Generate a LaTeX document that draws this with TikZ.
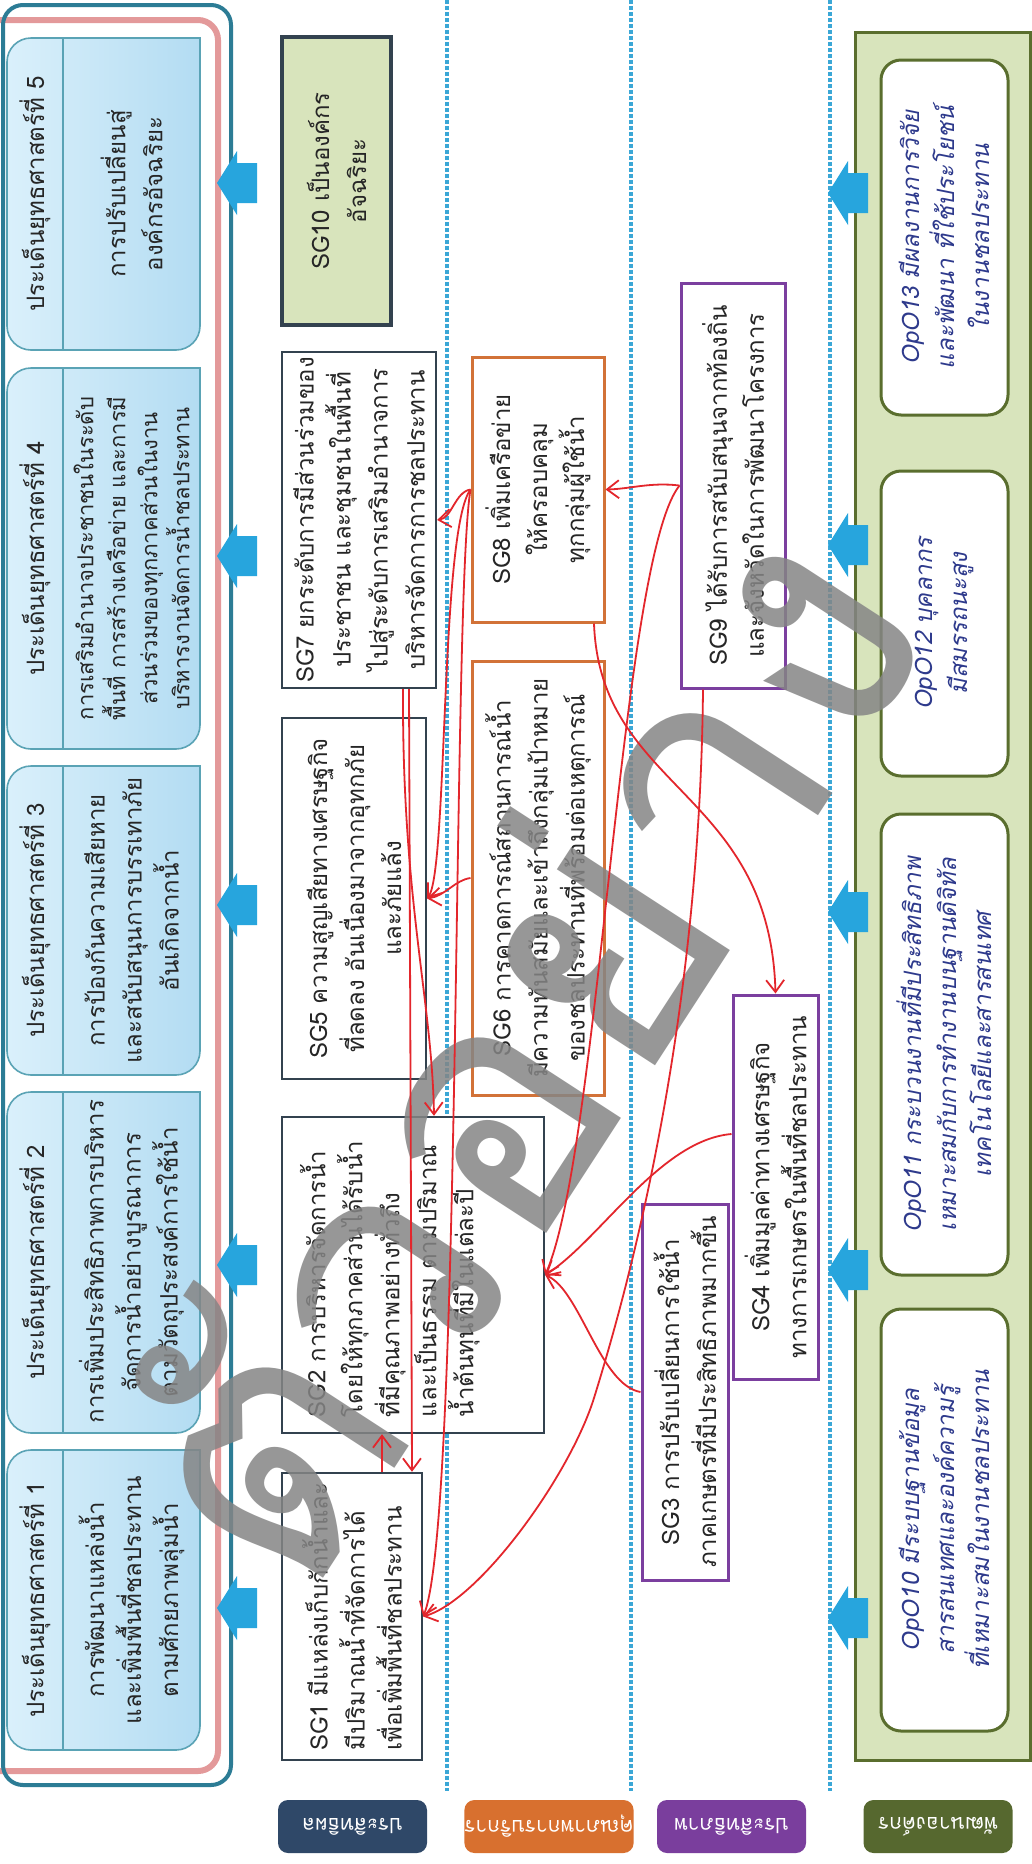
\documentclass[tikz,border=0pt]{standalone}
\usepackage{fontspec}
\usepackage{graphicx}
\setmainfont[Script=Thai]{Loma}
\newfontfamily\opofont[Script=Thai,FakeSlant=0.2]{Loma}
\usetikzlibrary{arrows.meta}

\definecolor{sgline}{HTML}{33424F}
\definecolor{issline}{HTML}{5AA3B5}
\definecolor{issA}{HTML}{DAF0FB}
\definecolor{issB}{HTML}{B3DCF2}
\definecolor{tealframe}{HTML}{2C7C95}
\definecolor{pinkframe}{HTML}{E3999A}
\definecolor{arrowblue}{HTML}{27A5DD}
\definecolor{dotblue}{HTML}{3BA7D6}
\definecolor{redlink}{HTML}{E3262C}
\definecolor{orangeline}{HTML}{D27238}
\definecolor{purpleline}{HTML}{7B3F9F}
\definecolor{greenfill}{HTML}{D8E4BC}
\definecolor{oliveline}{HTML}{5A6E2E}
\definecolor{opotext}{HTML}{2E3A8C}
\definecolor{perspnavy}{HTML}{2F4868}
\definecolor{persporange}{HTML}{D8702F}
\definecolor{persppurple}{HTML}{7A3E9D}
\definecolor{perspgreen}{HTML}{56682F}

\tikzset{
	sgbox/.style={draw=sgline, line width=1.2pt, fill=white, inner sep=0pt, text=black!85, font=\fontsize{12}{18.5}\selectfont},
	orangebox/.style={sgbox, draw=orangeline, line width=1.5pt},
	purplebox/.style={sgbox, draw=purpleline, line width=1.5pt},
	opobox/.style={draw=oliveline, line width=1.5pt, fill=white, rounded corners=10pt, inner sep=0pt, text=opotext, font=\opofont\fontsize{12}{17.5}\selectfont},
	issfill/.style={draw=issline, line width=0.8pt, left color=issA, right color=issB},
	issuetext/.style={inner sep=0pt, text=black!85, font=\fontsize{12}{18.5}\selectfont},
	persp/.style={rounded corners=5pt, text=white, inner sep=0pt, minimum width=74.5pt, minimum height=26.5pt, rotate=180, font=\fontsize{10.5}{12}\selectfont},
	sepline/.style={dotblue, line width=1.8pt, dash pattern=on 2pt off 1pt},
	link/.style={draw=redlink, line width=0.9pt, -{Straight Barb[length=6pt,width=9pt]}},
	stamp/.style={inner sep=0pt, text=black!48, text opacity=0.85, font=\fontsize{170}{170}\selectfont}
}

\newcommand{\rotpar}[3][\centering]{\rotatebox{90}{\parbox{#2}{#1#3}}}

\newcommand{\issuebox}[4]{
	\pgfmathsetmacro{\IBya}{#1}
	\pgfmathsetmacro{\IByb}{#2}
	\pgfmathsetmacro{\IBym}{(#1+#2)/2}
	\pgfmathsetmacro{\IBlen}{(#2-#1)/2-10}
	\path[issfill] (200,\IBya) [rounded corners=12pt] -- (7,\IBya) -- (7,\IByb) -- (200,\IByb) [sharp corners] -- cycle;
	\draw[issline, line width=0.8pt] (63,\IBya) -- (63,\IByb);
	\node[issuetext] (iss#3h) at (35,\IBym) {\rotpar{\IBlen pt}{ประเด็นยุทธศาสตร์ที่ #3}};
	\node[issuetext] (iss#3) at (131.5,\IBym) {\rotpar{\IBlen pt}{#4}};
}

\newcommand{\bluearrow}[2]{
	\pgfmathsetmacro{\BAxa}{#1+20}
	\pgfmathsetmacro{\BAxb}{#1+40}
	\pgfmathsetmacro{\BAya}{#2-32}
	\pgfmathsetmacro{\BAyb}{#2-20}
	\pgfmathsetmacro{\BAyc}{#2+20}
	\pgfmathsetmacro{\BAyd}{#2+32}
	\fill[arrowblue] (#1,#2) -- (\BAxa,\BAya) -- (\BAxa,\BAyb) -- (\BAxb,\BAyb) -- (\BAxb,\BAyc) -- (\BAxa,\BAyc) -- (\BAxa,\BAyd) -- cycle;
}

\begin{document}
\begin{tikzpicture}[x=0.5pt, y=-0.5pt]
\path[use as bounding box, fill=white] (0,0) rectangle (1032,1864);

\pgfmathsetmacro{\arLx}{217}
\pgfmathsetmacro{\arRx}{828}
\pgfmathsetmacro{\sepA}{447}
\pgfmathsetmacro{\sepB}{631}
\pgfmathsetmacro{\sepC}{830}
\pgfmathsetmacro{\sepEnd}{1791}

\draw[pinkframe, line width=3pt, rounded corners=10pt] (-30,20) rectangle (218,1771);
\draw[tealframe, line width=2pt, rounded corners=10pt] (3,5) rectangle (231,1785);

\issuebox{38}{350}{5}{การปรับเปลี่ยนสู่\\องค์กรอัจฉริยะ}
\issuebox{368}{749}{4}{\fontsize{11}{16}\selectfont การเสริมอำนาจประชาชนในระดับ\\พื้นที่ การสร้างเครือข่าย และการมี\\ส่วนร่วมของทุกภาคส่วนในงาน\\บริหารงานจัดการน้ำชลประทาน}
\issuebox{766}{1075}{3}{การป้องกันความเสียหาย\\และสนับสนุนการบรรเทาภัย\\อันเกิดจากน้ำ}
\issuebox{1092}{1433}{2}{การเพิ่มประสิทธิภาพการบริหาร\\จัดการน้ำอย่างบูรณาการ\\ตามวัตถุประสงค์การใช้น้ำ}
\issuebox{1450}{1750}{1}{การพัฒนาแหล่งน้ำ\\และเพิ่มพื้นที่ชลประทาน\\ตามศักยภาพลุ่มน้ำ}

\bluearrow{\arLx}{183}
\bluearrow{\arLx}{556}
\bluearrow{\arLx}{905}
\bluearrow{\arLx}{1265}
\bluearrow{\arLx}{1608}

\draw[sepline] (\sepA,0) -- (\sepA,\sepEnd);
\draw[sepline] (\sepB,0) -- (\sepB,\sepEnd);
\draw[sepline] (\sepC,0) -- (\sepC,\sepEnd);

\node[draw=oliveline, line width=1.5pt, fill=greenfill, minimum width=87.5pt, minimum height=864pt] (opoframe) at (942.5,896) {};

\bluearrow{\arRx}{193}
\bluearrow{\arRx}{545}
\bluearrow{\arRx}{912}
\bluearrow{\arRx}{1270}
\bluearrow{\arRx}{1618}

\node[sgbox, fill=greenfill, line width=1.6pt, minimum width=54.5pt, minimum height=144pt] (sg10) at (336.5,181) {\rotpar{136pt}{SG10 เป็นองค์กร\\อัจฉริยะ}};
\node[sgbox, minimum width=77pt, minimum height=168pt] (sg7) at (359,520) {\rotpar{164pt}{SG7 ยกระดับการมีส่วนร่วมของ\\ประชาชน และชุมชนในพื้นที่\\ไปสู่ระดับการเสริมอำนาจการ\\บริหารจัดการการชลประทาน}};
\node[sgbox, minimum width=72pt, minimum height=180.5pt] (sg5) at (354,898.5) {\rotpar{176pt}{SG5 ความสูญเสียทางเศรษฐกิจ\\ที่ลดลง อันเนื่องมาจากอุทกภัย\\และภัยแล้ง}};
\node[sgbox, minimum width=131pt, minimum height=158pt] (sg2) at (413,1275) {\rotatebox{90}{\parbox[c][113pt][t]{142pt}{\raggedright SG2 การบริหารจัดการน้ำ\\โดยให้ทุกภาคส่วนได้รับน้ำ\\ที่มีคุณภาพอย่างทั่วถึง\\และเป็นธรรม ตามปริมาณ\\น้ำต้นทุนที่มีในแต่ละปี}}};
\node[sgbox, minimum width=70pt, minimum height=143.5pt] (sg1) at (352,1616.5) {\rotpar[\raggedright]{134pt}{SG1 มีแหล่งเก็บกักน้ำและ\\มีปริมาณน้ำที่จัดการได้\\เพื่อเพิ่มพื้นที่ชลประทาน}};

\node[orangebox, minimum width=66pt, minimum height=132.5pt] (sg8) at (538,489.5) {\rotpar{128pt}{SG8 เพิ่มเครือข่าย\\ให้ครอบคลุม\\ทุกกลุ่มผู้ใช้น้ำ}};
\node[orangebox, minimum width=66pt, minimum height=217pt] (sg6) at (538,878) {\rotpar{212pt}{SG6 การคาดการณ์สถานการณ์น้ำ\\มีความทันสมัยและเข้าถึงกลุ่มเป้าหมาย\\ของชลประทานที่พร้อมต่อเหตุการณ์}};

\node[purplebox, minimum width=52pt, minimum height=202.5pt] (sg9) at (733,485.5) {\rotpar{198pt}{SG9 ได้รับการสนับสนุนจากท้องถิ่น\\และจังหวัดในการพัฒนาโครงการ}};
\node[purplebox, minimum width=42.5pt, minimum height=192pt] (sg4) at (775.5,1187) {\rotpar{188pt}{SG4 เพิ่มมูลค่าทางเศรษฐกิจ\\ทางการเกษตรในพื้นที่ชลประทาน}};
\node[purplebox, minimum width=43pt, minimum height=188pt] (sg3) at (685,1392) {\rotpar{184pt}{SG3 การปรับเปลี่ยนการใช้น้ำ\\ภาคเกษตรที่มีประสิทธิภาพมากขึ้น}};

\node[opobox, minimum width=63.5pt, minimum height=177.5pt] (opo13) at (944.5,237.5) {\rotpar{168pt}{OpO13 มีผลงานการวิจัย\\และพัฒนา ที่ใช้ประโยชน์\\ในงานชลประทาน}};
\node[opobox, minimum width=63.5pt, minimum height=152.5pt] (opo12) at (944.5,623.5) {\rotpar{144pt}{OpO12 บุคลากร\\มีสมรรถนะสูง}};
\node[opobox, minimum width=63.5pt, minimum height=230.5pt] (opo11) at (944.5,1044.5) {\rotpar{222pt}{OpO11 กระบวนงานที่มีประสิทธิภาพ\\เหมาะสมกับการทำงานบนฐานดิจิทัล\\เทคโนโลยีและสารสนเทศ}};
\node[opobox, minimum width=63.5pt, minimum height=211pt] (opo10) at (944.5,1520) {\rotpar{202pt}{OpO10 มีระบบฐานข้อมูล\\สารสนเทศและองค์ความรู้\\ที่เหมาะสมในงานชลประทาน}};

\node[persp, fill=perspnavy] (pEffect) at (352.5,1826.5) {ประสิทธิผล};
\node[persp, fill=persporange] (pService) at (549,1826.5) {คุณภาพการบริการ};
\node[persp, fill=persppurple] (pEfficiency) at (731.5,1826.5) {ประสิทธิภาพ};
\node[persp, fill=perspgreen] (pOrg) at (938,1826.5) {พัฒนาองค์กร};

\node[stamp, rotate=57] (stamp) at (508,1045) {ตัวอย่าง};

\draw[link] ([xshift=15pt]sg1.north) -- ([xshift=-15.5pt]sg2.south);
\draw[link] ([xshift=25pt]sg7.south) -- ([xshift=30pt]sg1.north);
\draw[link] ([xshift=22pt]sg7.south) .. controls (402,900) and (432,1000) .. ([xshift=10.5pt]sg2.north);
\draw[link] (sg8.west) .. controls (455,492) and (452,518) .. (sg7.east);
\draw[link] (sg8.west) .. controls (440,530) and (448,870) .. (sg5.east);
\draw[link] (sg6.west) .. controls (455,880) and (445,896) .. (sg5.east);
\draw[link] (sg8.west) .. controls (452,600) and (462,1520) .. (sg1.east);
\draw[link] (sg9.west) .. controls (650,482) and (630,489) .. (sg8.east);
\draw[link] (sg9.west) .. controls (620,560) and (600,1150) .. (sg2.east);
\draw[link] ([xshift=28pt]sg8.south) .. controls (600,790) and (770,790) .. (sg4.north);
\draw[link] ([yshift=26.5pt]sg4.west) .. controls (660,1140) and (600,1240) .. (sg2.east);
\draw[link] (sg3.west) .. controls (600,1385) and (580,1290) .. (sg2.east);
\draw[link] ([xshift=-15pt]sg9.south) .. controls (700,1000) and (640,1250) .. (594,1398) .. controls (570,1475) and (480,1600) .. (sg1.east);
\end{tikzpicture}
\end{document}
